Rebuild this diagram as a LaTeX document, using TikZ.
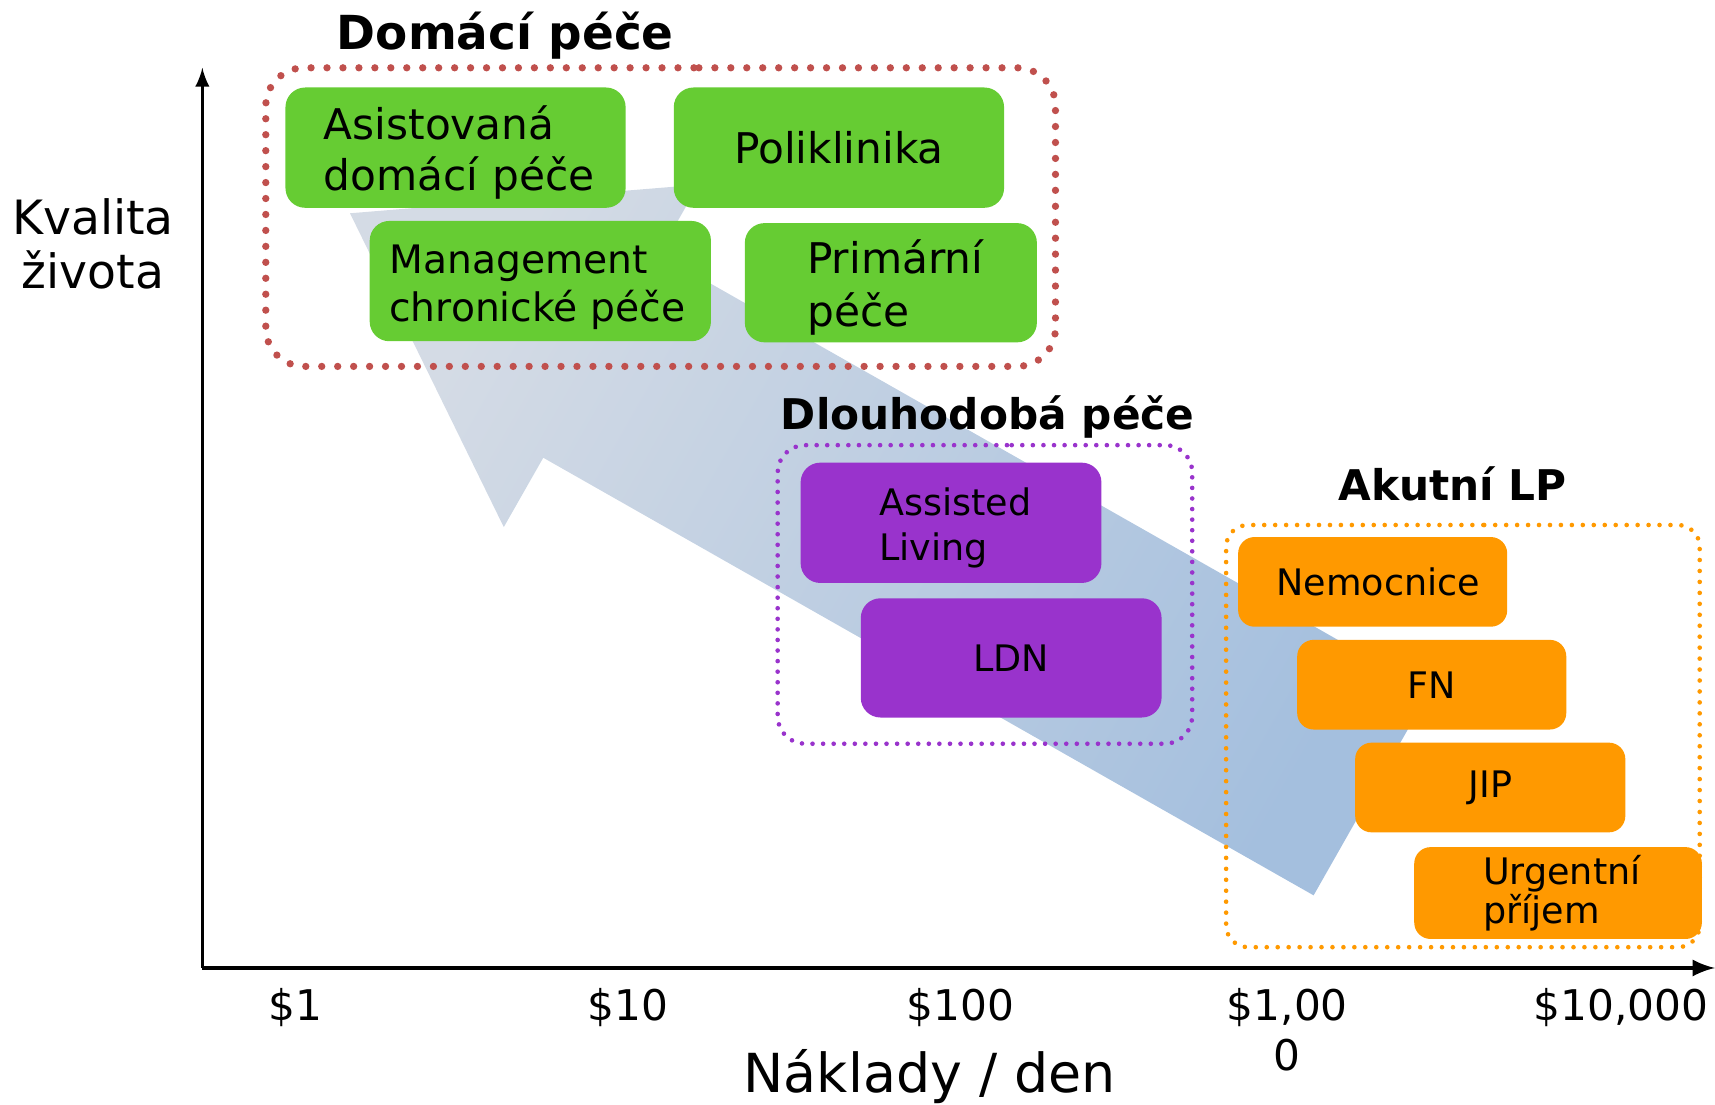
\documentclass[tikz,border=0pt]{standalone}
\usepackage{fontspec}
\setmainfont{DejaVu Sans}
\usepackage{tikz}
\usetikzlibrary{arrows, positioning}
\definecolor{caregreen}{RGB}{102,204,51}
\definecolor{carepurple}{RGB}{153,51,204}
\definecolor{careorange}{RGB}{255,153,0}
\definecolor{homered}{RGB}{192,80,77}
\definecolor{shafthead}{RGB}{212,219,229}
\definecolor{shafttail}{RGB}{164,191,222}
\tikzstyle{carebox} = [rectangle, rounded corners=0.18cm, inner ysep=0pt, text centered, text=black]
\tikzstyle{greenbox} = [carebox, fill=caregreen, minimum height=1.1cm, font=\fontsize{11}{13.1}\selectfont]
\tikzstyle{purplebox} = [carebox, fill=carepurple, minimum height=1.1cm, font=\fontsize{9.5}{11.7}\selectfont]
\tikzstyle{orangebox} = [carebox, fill=careorange, minimum height=0.82cm, rounded corners=0.15cm, font=\fontsize{9.5}{10}\selectfont]
\tikzstyle{homeframe} = [draw=homered, rounded corners=0.35cm, line width=1.9pt, line cap=round, dash pattern=on 0pt off 4.15pt]
\tikzstyle{longframe} = [draw=carepurple, rounded corners=0.25cm, line width=1.2pt, line cap=round, dash pattern=on 0pt off 2.75pt]
\tikzstyle{acuteframe} = [draw=careorange, rounded corners=0.2cm, line width=1.2pt, line cap=round, dash pattern=on 0pt off 2.85pt]
\tikzstyle{grouptitle} = [font=\bfseries\fontsize{11}{13}\selectfont]
\tikzstyle{tick} = [anchor=north, inner sep=0pt, align=center, font=\fontsize{11}{13.1}\selectfont]
\tikzstyle{axis} = [->,>=latex]

\begin{document}
\begin{tikzpicture}[node distance=0.94cm]
\useasboundingbox (0,0) rectangle (15.68,10.10);

% big arrow in the background
\shade [top color=shafthead, bottom color=shafttail, shading angle=60.4] (3.20,8.15) -- (6.385,8.411) -- (6.024,7.776) -- (13.067,3.775) -- (12.010,1.914) -- (4.967,5.915) -- (4.606,5.281) -- cycle;

% axes
\coordinate (origin) at (1.85,1.25);
\coordinate (ytop) at (1.85,9.48);
\coordinate (xend) at (15.68,1.25);
\draw [axis, line width=0.7pt] (origin) -- (ytop);
\draw [axis, line width=1pt] (origin) -- (xend);

\node (quality) [align=center, font=\fontsize{12.3}{14.2}\selectfont] at (0.85,7.87) {Kvalita\\života};
\node (cost) [font=\fontsize{14}{16}\selectfont] at (8.50,0.26) {Náklady / den};
\node (c1) [tick] at (2.70,1.07) {\$1};
\node (c10) [tick] at (5.74,1.07) {\$10};
\node (c100) [tick] at (8.78,1.07) {\$100};
\node (c1000) [tick] at (11.77,1.07) {\$1,00\\0};
\node (c10000) [tick] at (14.82,1.07) {\$10,000};

% home care
\node (asist) [greenbox, align=left, text width=2.41cm, inner xsep=0.35cm, text depth=12.9pt] at (4.165,8.75) {Asistovaná\\domácí~péče};
\node (polik) [greenbox, minimum width=3.02cm, right of=asist, xshift=2.565cm] {Poliklinika};
\node (chron) [greenbox, font=\fontsize{10.2}{12.5}\selectfont, align=left, text width=2.76cm, inner xsep=0.18cm, text depth=11.5pt, below of=asist, xshift=0.775cm, yshift=-0.28cm] {Management\\chronické~péče};
\node (prim) [greenbox, font=\fontsize{11}{13.7}\selectfont, align=left, text width=1.53cm, inner xsep=0.57cm, text depth=13.5pt, minimum height=1.09cm, below of=polik, xshift=0.475cm, yshift=-0.295cm] {Primární\\péče};

% long term care
\node (assist) [purplebox, align=left, text width=1.31cm, inner xsep=0.72cm, text depth=11.1pt] at (8.695,5.32) {Assisted\\Living};
\node (ldn) [purplebox, minimum width=2.75cm, minimum height=1.09cm, below of=assist, xshift=0.55cm, yshift=-0.295cm] {LDN};

% acute care
\node (nemoc) [orangebox, minimum width=2.46cm] at (12.55,4.78) {\hspace{0.1cm}Nemocnice};
\node (fn) [orangebox, minimum width=2.46cm, below of=nemoc, xshift=0.54cm] {FN};
\node (jip) [orangebox, minimum width=2.47cm, below of=fn, xshift=0.535cm] {JIP};
\node (urg) [orangebox, align=left, text width=1.37cm, inner xsep=0.63cm, minimum height=0.84cm, below of=jip, xshift=0.62cm, yshift=-0.025cm] {Urgentní\\příjem};

% groups
\draw [homeframe] (6.04,9.48) -| (9.65,6.75) -| (2.43,9.48) -- cycle;
\draw [longframe] (9.00,6.03) -| (10.90,3.30) -| (7.11,6.03) -- cycle;
\draw [acuteframe] (13.37,5.30) -| (15.54,1.44) -| (11.21,5.30) -- cycle;
\node (hometitle) [grouptitle, font=\bfseries\fontsize{12.2}{14}\selectfont] at (4.62,9.77) {Domácí péče};
\node (longtitle) [grouptitle] at (9.03,6.29) {Dlouhodobá péče};
\node (acutetitle) [grouptitle] at (13.28,5.68) {Akutní LP};

\end{tikzpicture}
\end{document}
